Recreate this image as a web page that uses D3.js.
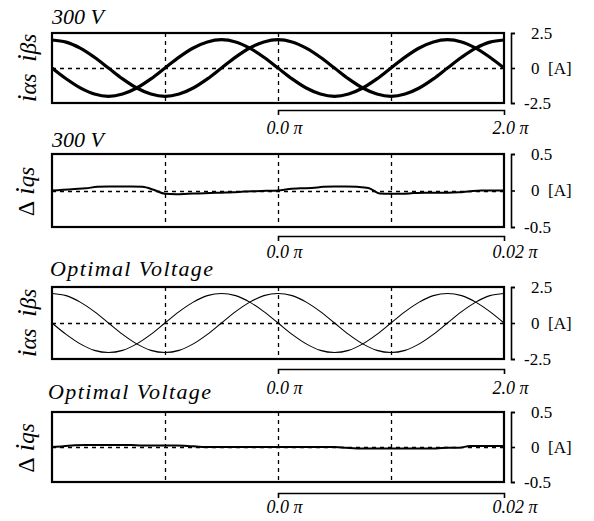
<!DOCTYPE html>
<html>
<head>
<meta charset="utf-8">
<script src="https://cdn.jsdelivr.net/npm/d3@7"></script>
<style>
  body { margin: 0; background: #fff; }
  svg { display: block; }
</style>
</head>
<body>
<div id="chart"></div>
<script>
// phase (in units of pi) for the current traces
var phase = [-2, -1.875, -1.75, -1.625, -1.5, -1.375, -1.25, -1.125, -1,
  -0.875, -0.75, -0.625, -0.5, -0.375, -0.25, -0.125, 0,
  0.125, 0.25, 0.375, 0.5, 0.625, 0.75, 0.875, 1,
  1.125, 1.25, 1.375, 1.5, 1.625, 1.75, 1.875, 2];

// 300 V : i_alpha, i_beta [A]
var iAlpha300 = [2.0, 1.85, 1.42, 0.77, 0, -0.78, -1.43, -1.86, -2.02,
  -1.86, -1.43, -0.78, 0, 0.78, 1.43, 1.86, 2.02,
  1.86, 1.42, 0.77, 0, -0.78, -1.43, -1.86, -2.02,
  -1.86, -1.43, -0.78, 0, 0.77, 1.42, 1.85, 2.0];
var iBeta300 = [0, -0.77, -1.42, -1.86, -2.02, -1.86, -1.43, -0.78, 0,
  0.78, 1.43, 1.86, 2.02, 1.86, 1.42, 0.77, 0,
  -0.78, -1.43, -1.86, -2.02, -1.86, -1.43, -0.78, 0,
  0.78, 1.43, 1.86, 2.02, 1.86, 1.42, 0.77, 0];

// Optimal voltage : i_alpha, i_beta [A]
var iAlphaOpt = [2.05, 1.9, 1.45, 0.79, 0, -0.79, -1.45, -1.9, -2.05,
  -1.9, -1.45, -0.79, 0, 0.79, 1.45, 1.9, 2.05,
  1.9, 1.45, 0.79, 0, -0.79, -1.45, -1.9, -2.05,
  -1.9, -1.45, -0.79, 0, 0.79, 1.45, 1.9, 2.05];
var iBetaOpt = [0, -0.79, -1.45, -1.9, -2.05, -1.9, -1.45, -0.79, 0,
  0.79, 1.45, 1.9, 2.05, 1.9, 1.45, 0.79, 0,
  -0.79, -1.45, -1.9, -2.05, -1.9, -1.45, -0.79, 0,
  0.79, 1.45, 1.9, 2.05, 1.9, 1.45, 0.79, 0];

// zoomed phase (units of pi) for the q-axis error traces
var phaseFine = [-0.020, -0.019, -0.018, -0.017, -0.016, -0.015, -0.014, -0.013, -0.012, -0.011,
  -0.010, -0.009, -0.008, -0.007, -0.006, -0.005, -0.004, -0.003, -0.002, -0.001,
  0.000, 0.001, 0.002, 0.003, 0.004, 0.005, 0.006, 0.007, 0.008, 0.009,
  0.010, 0.011, 0.012, 0.013, 0.014, 0.015, 0.016, 0.017, 0.018, 0.019, 0.020];

// delta i_qs [A]
var dIq300 = [0, 0.01, 0.02, 0.03, 0.05, 0.055, 0.055, 0.055, 0.05, 0.01,
  -0.045, -0.05, -0.045, -0.04, -0.035, -0.03, -0.025, -0.015, -0.01, -0.005,
  0, 0.02, 0.03, 0.035, 0.05, 0.055, 0.055, 0.05, 0.035, -0.04,
  -0.045, -0.045, -0.035, -0.03, -0.03, -0.03, -0.025, -0.01, 0, 0, 0];
var dIqOpt = [0, 0.01, 0.025, 0.03, 0.03, 0.03, 0.03, 0.028, 0.02, 0.02,
  0.02, 0.02, 0.015, 0.005, 0, 0, 0, 0, 0, 0,
  0, 0, 0, 0, 0, 0, -0.01, -0.02, -0.02, -0.02,
  -0.02, -0.02, -0.02, -0.02, -0.02, -0.012, -0.012, 0.015, 0.015, 0.015, 0.015];

var gridPhase = [-1, 0, 1];
var gridFine = [-0.01, 0, 0.01];
var ticksBig = [-2.5, 0, 2.5];
var ticksSmall = [-0.5, 0, 0.5];
var spanBig = [0, 2];
var spanFine = [0, 0.02];

var serif = "Liberation Serif";
var left = 52, right = 504;

var svg = d3.select("#chart")
  .append("svg")
  .attr("width", 594)
  .attr("height", 521);

var panels = [
  {top: 33, bottom: 103, bracketY: 110, labelY: 134, titleY: 24, titleX: 52, title: "300 V", kind: "ab",
   t: phase, series: [iAlpha300, iBeta300], lw: 3.2, grid: gridPhase, ticks: ticksBig, span: spanBig},
  {top: 154, bottom: 227, bracketY: 236, labelY: 258, titleY: 147, titleX: 52, title: "300 V", kind: "dq",
   t: phaseFine, series: [dIq300], lw: 2, grid: gridFine, ticks: ticksSmall, span: spanFine},
  {top: 287, bottom: 359, bracketY: 369, labelY: 394, titleY: 276, titleX: 50, title: "Optimal Voltage", kind: "ab",
   t: phase, series: [iAlphaOpt, iBetaOpt], lw: 1.1, grid: gridPhase, ticks: ticksBig, span: spanBig},
  {top: 412, bottom: 482, bracketY: 493, labelY: 513, titleY: 399, titleX: 48, title: "Optimal Voltage", kind: "dq",
   t: phaseFine, series: [dIqOpt], lw: 2, grid: gridFine, ticks: ticksSmall, span: spanFine}
];

panels.forEach(function(p) {
  var g = svg.append("g");
  var lim = p.ticks[2];
  var x = d3.scaleLinear().domain([-p.span[1], p.span[1]]).range([left, right]);
  var y = d3.scaleLinear().domain([-lim, lim]).range([p.bottom, p.top]);

  // dashed grid
  g.selectAll(".vgrid")
    .data(p.grid)
    .enter()
    .append("line")
    .attr("x1", function(d) { return Math.round(x(d)) + 0.5; })
    .attr("x2", function(d) { return Math.round(x(d)) + 0.5; })
    .attr("y1", p.top)
    .attr("y2", p.bottom)
    .attr("stroke", "#000")
    .attr("stroke-width", 1.3)
    .attr("stroke-dasharray", "4,4");
  g.append("line")
    .attr("x1", left).attr("x2", right)
    .attr("y1", Math.round(y(0)) + 0.5).attr("y2", Math.round(y(0)) + 0.5)
    .attr("stroke", "#000")
    .attr("stroke-width", 1.3)
    .attr("stroke-dasharray", "4,4");

  // traces
  var line = d3.line()
    .x(function(d) { return x(d[0]); })
    .y(function(d) { return y(d[1]); })
    .curve(p.kind == "ab" ? d3.curveCatmullRom : d3.curveMonotoneX);
  p.series.forEach(function(s) {
    g.append("path")
      .datum(d3.zip(p.t, s))
      .attr("d", line)
      .attr("fill", "none")
      .attr("stroke", "#000")
      .attr("stroke-width", p.lw)
      .attr("stroke-linejoin", "round");
  });

  // frame
  g.append("rect")
    .attr("x", left).attr("y", p.top)
    .attr("width", right - left).attr("height", p.bottom - p.top)
    .attr("fill", "none")
    .attr("stroke", "#000")
    .attr("stroke-width", 2.2);

  // right value axis
  var ya = g.append("g")
    .attr("transform", "translate(511,0)")
    .call(d3.axisRight(y).tickValues(p.ticks).tickSize(4).tickSizeOuter(4)
      .tickFormat(function(d) { return d == 0 ? "0\u00a0\u00a0[A]" : (d < 0 ? "-" : "") + Math.abs(d).toFixed(1); }));
  ya.attr("font-family", serif).attr("font-size", 17);
  ya.select(".domain").attr("stroke-width", 1.6);
  ya.selectAll("line").attr("stroke-width", 1.6);
  ya.selectAll("text")
    .attr("font-family", serif)
    .attr("font-size", 17)
    .attr("fill", "#000")
    .attr("x", function(d) { return d < 0 ? 13 : 20; });

  // phase span bracket under the plot
  var xb = d3.scaleLinear().domain(p.span).range([x(0), right]);
  var xa = g.append("g")
    .attr("transform", "translate(0," + p.bracketY + ")")
    .call(d3.axisBottom(xb).tickValues(p.span).tickSizeInner(0).tickSizeOuter(5)
      .tickPadding(p.labelY - p.bracketY - 13)
      .tickFormat(function(d) { return (d == 0 ? "0.0" : (p.kind == "ab" ? "2.0" : "0.02")) + "\u00a0\u03c0"; }));
  xa.attr("font-family", serif).attr("font-size", 18);
  xa.select(".domain").attr("stroke-width", 1.6);
  xa.selectAll("text")
    .attr("font-family", serif)
    .attr("font-size", 18)
    .attr("font-style", "italic")
    .attr("fill", "#000")
    .attr("text-anchor", "start")
    .attr("dx", -12);

  // title
  var tt = g.append("text")
    .attr("x", p.titleX)
    .attr("y", p.titleY)
    .attr("font-family", serif)
    .attr("font-size", 22)
    .attr("font-style", "italic")
    .text(p.title);
  if (p.title != "300 V") tt.attr("textLength", 163).attr("lengthAdjust", "spacing");

  // rotated y label
  var cy = (p.top + p.bottom) / 2;
  var yl = g.append("text")
    .attr("transform", "translate(36," + cy + ") rotate(-90)")
    .attr("text-anchor", "middle")
    .attr("font-family", serif)
    .attr("fill", "#000");
  if (p.kind == "ab") {
    yl.append("tspan").attr("font-style", "italic").attr("font-size", 28).text("i");
    yl.append("tspan").attr("font-style", "italic").attr("font-size", 23).text("\u03b1s\u00a0\u00a0");
    yl.append("tspan").attr("font-style", "italic").attr("font-size", 28).text("i");
    yl.append("tspan").attr("font-style", "italic").attr("font-size", 23).text("\u03b2s");
  } else {
    yl.attr("transform", "translate(34," + (cy + 1) + ") rotate(-90)");
    yl.append("tspan").attr("font-size", 24).text("\u0394\u00a0");
    yl.append("tspan").attr("font-style", "italic").attr("font-size", 28).text("i");
    yl.append("tspan").attr("font-style", "italic").attr("font-size", 23).text("qs");
  }
});
</script>
</body>
</html>
